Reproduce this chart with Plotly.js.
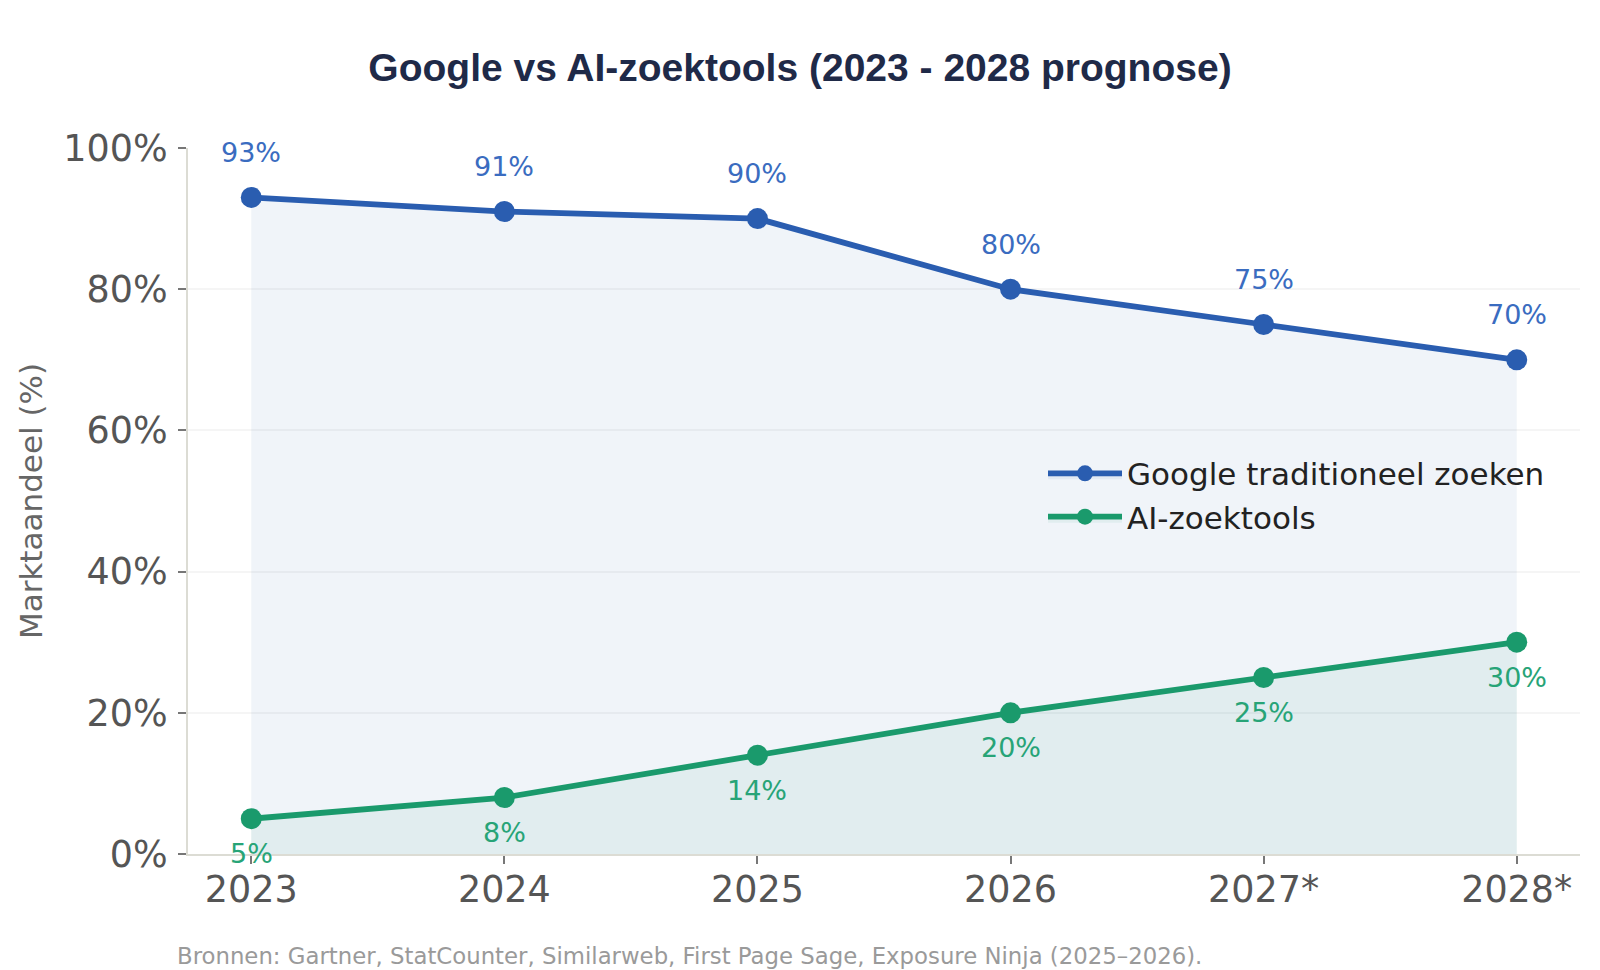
<!DOCTYPE html>
<html>
<head>
<meta charset="utf-8">
<script src="https://cdn.plot.ly/plotly-3.0.1.min.js"></script>
<style>html,body{margin:0;padding:0;background:#fff;}#chart{width:1600px;height:970px;}</style>
</head>
<body>
<div id="chart"></div>
<script>
const years = ['2023', '2024', '2025', '2026', '2027*', '2028*'];
const googleShare = [93, 91, 90, 80, 75, 70];
const aiShare = [5, 8, 14, 20, 25, 30];
const googleName = 'Google traditioneel zoeken';
const aiName = 'AI-zoektools';
const yTicks = [0, 20, 40, 60, 80, 100];
const yTickLabels = ['0%', '20%', '40%', '60%', '80%', '100%'];
const titleText = 'Google vs AI-zoektools (2023 - 2028 prognose)';
const yTitle = 'Marktaandeel (%)';
const sourceText = 'Bronnen: Gartner, StatCounter, Similarweb, First Page Sage, Exposure Ninja (2025–2026).';

const blue = '#2a5db0';
const green = '#1a9a6c';
const blueLabel = '#3a6cc0';
const greenLabel = '#27a477';

const traces = [
  {
    x: years, y: googleShare, name: googleName, type: 'scatter', mode: 'lines+markers',
    line: {color: blue, width: 5.8}, marker: {color: blue, size: 21},
    fill: 'tozeroy', fillcolor: 'rgba(42,93,176,0.07)', cliponaxis: false
  },
  {
    x: years, y: aiShare, name: aiName, type: 'scatter', mode: 'lines+markers',
    line: {color: green, width: 5.8}, marker: {color: green, size: 21},
    fill: 'tozeroy', fillcolor: 'rgba(26,154,108,0.07)', cliponaxis: false
  }
];

const annotations = [];
years.forEach((yr, i) => {
  annotations.push({
    x: i, y: googleShare[i], xref: 'x', yref: 'y', text: googleShare[i] + '%',
    showarrow: false, yshift: 45, yanchor: 'middle',
    font: {family: 'DejaVu Sans', size: 27, color: blueLabel}
  });
  annotations.push({
    x: i, y: aiShare[i], xref: 'x', yref: 'y', text: aiShare[i] + '%',
    showarrow: false, yshift: -35, yanchor: 'middle',
    font: {family: 'DejaVu Sans', size: 27, color: greenLabel}
  });
});
annotations.push({
  xref: 'paper', yref: 'paper', x: -0.0094, y: -0.1446, xanchor: 'left', yanchor: 'middle',
  text: sourceText, showarrow: false,
  font: {family: 'DejaVu Sans', size: 22.8, color: '#9a9a9a'}
});

const layout = {
  width: 1600, height: 970,
  paper_bgcolor: '#ffffff', plot_bgcolor: '#ffffff',
  margin: {l: 188, r: 20, t: 148, b: 116},
  title: {
    text: '<b>' + titleText + '</b>', x: 0.5, xref: 'container', xanchor: 'center',
    y: 1 - 67 / 970, yref: 'container', yanchor: 'middle',
    font: {family: 'Liberation Sans, Arial, sans-serif', size: 39, color: '#1f2a48'}
  },
  xaxis: {
    type: 'category', range: [-0.25, 5.25],
    showgrid: false, zeroline: false,
    showline: true, linecolor: '#dcdcd4', linewidth: 2,
    ticks: 'outside', ticklen: 8, tickwidth: 2, tickcolor: '#777',
    ticklabelstandoff: -6,
    tickfont: {family: 'DejaVu Sans', size: 36.5, color: '#555'}
  },
  yaxis: {
    range: [0, 100], tickvals: yTicks, ticktext: yTickLabels,
    showgrid: true, gridcolor: '#f5f5f5', gridwidth: 1.5, zeroline: false,
    showline: true, linecolor: '#dcdcd4', linewidth: 2,
    ticks: 'outside', ticklen: 8, tickwidth: 2, tickcolor: '#777',
    ticklabelstandoff: 3,
    tickfont: {family: 'DejaVu Sans', size: 36.5, color: '#555'},
    title: {text: yTitle, standoff: 11, font: {family: 'DejaVu Sans', size: 31, color: '#666'}}
  },
  legend: {
    x: (1043 - 188) / 1392, xanchor: 'left', y: (854 - 447) / 705.5, yanchor: 'top',
    bgcolor: 'rgba(0,0,0,0)', borderwidth: 0,
    font: {family: 'DejaVu Sans', size: 31, color: '#222'},
    itemwidth: 74
  },
  showlegend: true,
  annotations: annotations
};

Plotly.newPlot('chart', traces, layout, {displayModeBar: false, responsive: false});
</script>
</body>
</html>
